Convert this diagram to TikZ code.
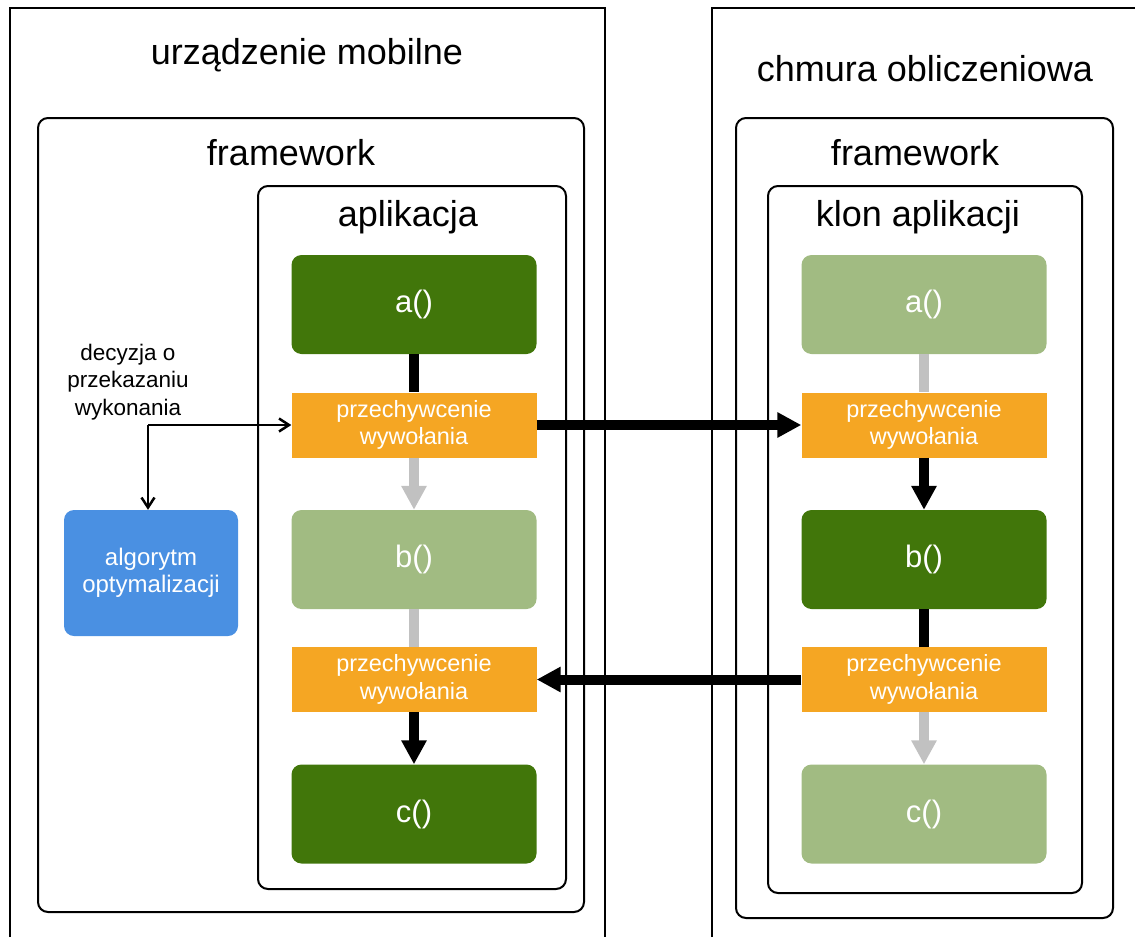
\documentclass[tikz,border=0pt]{standalone}
\usepackage{fontspec}
\setmainfont{Liberation Sans}
\usetikzlibrary{arrows.meta}

\definecolor{fdark}{HTML}{41760A}
\definecolor{flight}{HTML}{A1BB82}
\definecolor{hookcol}{HTML}{F5A623}
\definecolor{optimcol}{HTML}{4A90E2}
\definecolor{flowgray}{HTML}{C1C1C1}

\begin{document}
\begin{tikzpicture}[x=1pt,y=-1pt,
  frameline/.style={line width=2pt},
  layer/.style={line width=2pt, rounded corners=10pt},
  title/.style={font=\fontsize{36}{43}\selectfont, inner sep=0pt, anchor=base},
  func/.style={rounded corners=10pt, minimum width=245pt, minimum height=99pt,
    text=white, font=\fontsize{31}{37}\selectfont, inner sep=0pt},
  active/.style={func, fill=fdark},
  idle/.style={func, fill=flight},
  hookbox/.style={fill=hookcol, minimum width=245pt, minimum height=65pt,
    text=white, align=center, font=\fontsize{23.5}{27.5}\selectfont, inner sep=0pt},
  optbox/.style={fill=optimcol, rounded corners=10pt, minimum width=174pt,
    minimum height=126pt, text=white, align=center,
    font=\fontsize{24}{28}\selectfont, inner sep=0pt},
  note/.style={align=center, font=\fontsize{22.5}{27.5}\selectfont, inner sep=0pt},
  live/.style={line width=10pt, black},
  dead/.style={line width=10pt, flowgray},
  headtip/.style={-{Triangle[length=24pt,width=24pt]}},
  thinarrow/.style={line width=2.5pt, -{Straight Barb[length=10pt,width=13pt]}}
]
\useasboundingbox (0,0) rectangle (1135,937);

% device and cloud frames (open at the page edges)
\draw[frameline] (10,937) -- (10,8) -- (605,8) -- (605,937);
\draw[frameline] (712,937) -- (712,8) -- (1135,8);
\node[title] (devtitle) at (307,64) {urządzenie mobilne};
\node[title] (cloudtitle) at (925,81) {chmura obliczeniowa};

% framework and application layers
\draw[layer] (38,118) rectangle (584,912);
\node[title] (fwL) at (291,165) {framework};
\draw[layer] (258,186) rectangle (566,889);
\node[title] (appL) at (408,226) {aplikacja};

\draw[layer] (736,118) rectangle (1113,918);
\node[title] (fwR) at (915,165) {framework};
\draw[layer] (768,186) rectangle (1082,893);
\node[title] (appR) at (918,226) {klon aplikacji};

% local application
\node[active] (aL) at (414,304.5) {a()};
\node[hookbox] (hL1) at (414,425) {przechywcenie\\wywołania};
\node[idle] (bL) at (414,559.5) {b()};
\node[hookbox] (hL2) at (414,679.5) {przechywcenie\\wywołania};
\node[active] (cL) at (414,814) {c()};

% application clone
\node[idle] (aR) at (924,304.5) {a()};
\node[hookbox] (hR1) at (924,425) {przechywcenie\\wywołania};
\node[active] (bR) at (924,559.5) {b()};
\node[hookbox] (hR2) at (924,679.5) {przechywcenie\\wywołania};
\node[idle] (cR) at (924,814) {c()};

% optimiser and decision
\node[optbox] (opt) at (151,573)
  {\raisebox{5pt}{\begin{tabular}{@{}c@{}}algorytm\\[-1pt]optymalizacji\end{tabular}}};
\node[note] (decision) at (128,382) {decyzja o\\przekazaniu\\wykonania};
\coordinate (split) at (148,425);
\draw[thinarrow] (split) -- (hL1.west);
\draw[thinarrow] (split) -- (split |- opt.north);

% control flow on the device
\draw[live] (aL.south) -- (hL1.north);
\draw[dead, headtip] (hL1.south) -- (bL.north);
\draw[dead] (bL.south) -- (hL2.north);
\draw[live, headtip] (hL2.south) -- (cL.north);

% control flow in the cloud
\draw[dead] (aR.south) -- (hR1.north);
\draw[live, headtip] (hR1.south) -- (bR.north);
\draw[live] (bR.south) -- (hR2.north);
\draw[dead, headtip] (hR2.south) -- (cR.north);

% offloading and return
\draw[live, headtip] (hL1.east) -- (hR1.west);
\draw[live, headtip] (hR2.west) -- (hL2.east);
\end{tikzpicture}
\end{document}
